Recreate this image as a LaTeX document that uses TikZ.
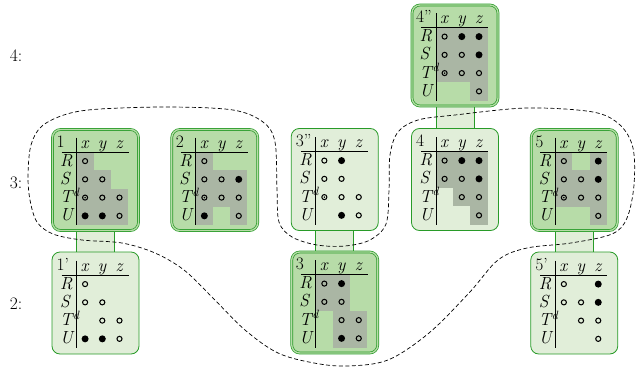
\documentclass[tikz,border=0pt]{standalone}
\usetikzlibrary{calc,backgrounds}
\definecolor{gcol}{RGB}{40,155,40}
\definecolor{dfill}{RGB}{183,220,168}
\definecolor{lfill}{RGB}{225,238,217}
\definecolor{gcell}{RGB}{170,182,164}
\newcommand\mytd{\textit{T}\kern-1pt\raisebox{6.5pt}{\fontsize{12}{12}\selectfont\textit{d}}}
\newcommand\myframe[1]{%
  \node[anchor=base west] at (-39,-33) {#1};
  \node[anchor=base] at (-10.4,-32) {\textit{x}};
  \node[anchor=base] at (6.8,-32) {\textit{y}};
  \node[anchor=base] at (24,-32) {\textit{z}};
  \draw[line width=0.9pt] (-34,-28) -- (33,-28);
  \draw[line width=0.8pt] (-19,-42.3) -- (-19,45);
  \node[anchor=base west] at (-35.5,-14) {\textit{R}};
  \node[anchor=base west] at (-35.5,4.3) {\textit{S}};
  \node[anchor=base west] at (-35.5,22.6) {\mytd};
  \node[anchor=base west] at (-35.5,40.9) {\textit{U}};
}
\newcommand\myg[2]{\fill[gcell] ({-19+17.2*#1},{-28+18.25*#2}) rectangle ++(17.2,18.25);}
\newcommand\myo[2]{\draw[line width=1.05pt] ({-10.4+17.2*#1},{-18.9+18.25*#2}) circle[radius=2.55pt];}
\newcommand\myf[2]{\fill ({-10.4+17.2*#1},{-18.9+18.25*#2}) circle[radius=3.5pt];}
\newcommand\myd[2]{\draw[line width=1.05pt] ({-10.4+17.2*#1},{-18.9+18.25*#2}) circle[radius=2.55pt];
  \fill ({-10.4+17.2*#1},{-18.9+18.25*#2}) circle[radius=0.8pt];}
\begin{document}
\begin{tikzpicture}[x=1pt,y=-1pt,
  every node/.style={inner sep=0pt,font=\fontsize{17.5}{19}\selectfont},
  sgl/.style={draw=gcol,line width=0.8pt,fill=lfill,rounded corners=8pt,minimum width=87pt,minimum height=102pt},
  dbl/.style={draw=gcol,line width=0.7pt,fill=dfill,double=dfill,double distance=1.3pt,rounded corners=8pt,minimum width=86pt,minimum height=101pt},
  band/.style={draw=gcol,line width=0.8pt},
  region/.style={draw=black,line width=0.7pt,dash pattern=on 4pt off 2.5pt}]
\useasboundingbox (0,0) rectangle (637,367);
% level labels
\node (l4) at (16,56) {4:};
\node (l3) at (16,183) {3:};
\node (l2) at (16,304) {2:};
% Box 4''
\begin{scope}[shift={(455,55.5)}]
  \node[dbl] (b4pp) at (0,0) {};
  \myg00\myg10\myg20\myg01\myg11\myg21\myg02\myg12\myg22\myg23
  \myframe{4''}
  \myo00\myf10\myf20\myo01\myo11\myf21\myd02\myo12\myo22\myo23
\end{scope}
% Box 1
\begin{scope}[shift={(95.5,180)}]
  \node[dbl] (b1) at (0,0) {};
  \myg00\myg01\myg11\myg02\myg12\myg22\myg03\myg13\myg23
  \myframe{1}
  \myo00\myo01\myo11\myd02\myo12\myo22\myf03\myf13\myo23
\end{scope}
% Box 2
\begin{scope}[shift={(214.75,180)}]
  \node[dbl] (b2) at (0,0) {};
  \myg00\myg01\myg11\myg21\myg02\myg12\myg22\myg03\myg23
  \myframe{2}
  \myo00\myo01\myo11\myf21\myd02\myo12\myo22\myf03\myo23
\end{scope}
% Box 3''
\begin{scope}[shift={(334.75,179.5)}]
  \node[sgl] (b3pp) at (0,0) {};
  \myframe{3''}
  \myo00\myf10\myo01\myo11\myd02\myo12\myo22\myf13\myo23
\end{scope}
% Box 4
\begin{scope}[shift={(455,179.5)}]
  \node[sgl] (b4) at (0,0) {};
  \myg00\myg10\myg20\myg01\myg11\myg21\myg12\myg22\myg23
  \myframe{4}
  \myo00\myf10\myf20\myo01\myo11\myf21\myo12\myo22\myo23
\end{scope}
% Box 5
\begin{scope}[shift={(574.25,180)}]
  \node[dbl] (b5) at (0,0) {};
  \myg00\myg20\myg01\myg11\myg21\myg02\myg12\myg22\myg23
  \myframe{5}
  \myo00\myf20\myo01\myo11\myf21\myd02\myo12\myo22\myo23
\end{scope}
% Box 1'
\begin{scope}[shift={(95.5,303)}]
  \node[sgl] (b1p) at (0,0) {};
  \myframe{1'}
  \myo00\myo01\myo11\myo12\myo22\myf03\myf13\myo23
\end{scope}
% Box 3
\begin{scope}[shift={(334.75,302.5)}]
  \node[dbl] (b3) at (0,0) {};
  \myg00\myg10\myg01\myg11\myg12\myg22\myg13\myg23
  \myframe{3}
  \myo00\myf10\myo01\myo11\myo12\myo22\myf13\myo23
\end{scope}
% Box 5'
\begin{scope}[shift={(574.25,303)}]
  \node[sgl] (b5p) at (0,0) {};
  \myframe{5'}
  \myo00\myf20\myo01\myo11\myf21\myo12\myo22\myo23
\end{scope}
% bands
\begin{pgfonlayer}{background}
\foreach \a/\b in {b4pp/b4,b1/b1p,b3pp/b3,b5/b5p}{
  \fill[lfill] ($(\a.south)+(-19,0)$) rectangle ($(\b.north)+(19,0)$);
  \draw[band] ($(\a.south)+(-19,0)$) -- ($(\b.north)+(-19,0)$);
  \draw[band] ($(\a.south)+(19,0)$) -- ($(\b.north)+(19,0)$);
}
\end{pgfonlayer}
% dashed region
\draw[region] plot[smooth cycle,tension=0.55] coordinates {
 (28,175) (31,145) (42,126) (67,114) (100,109) (170,107) (233,110) (263,122)
 (275,142) (277,190) (279,222) (292,237) (317,245) (345,246) (370,240) (386,224)
 (389,190) (390,155) (398,132) (418,120) (455,115) (527,108) (593,112) (620,125)
 (633,148) (634,185) (627,218) (612,234) (571,243) (527,248) (498,260) (469,293)
 (429,333) (388,360) (347,366) (314,363) (278,353) (245,330) (212,297) (184,270)
 (155,253) (122,243) (82,240) (53,234) (37,222) (30,200)};
\end{tikzpicture}
\end{document}
